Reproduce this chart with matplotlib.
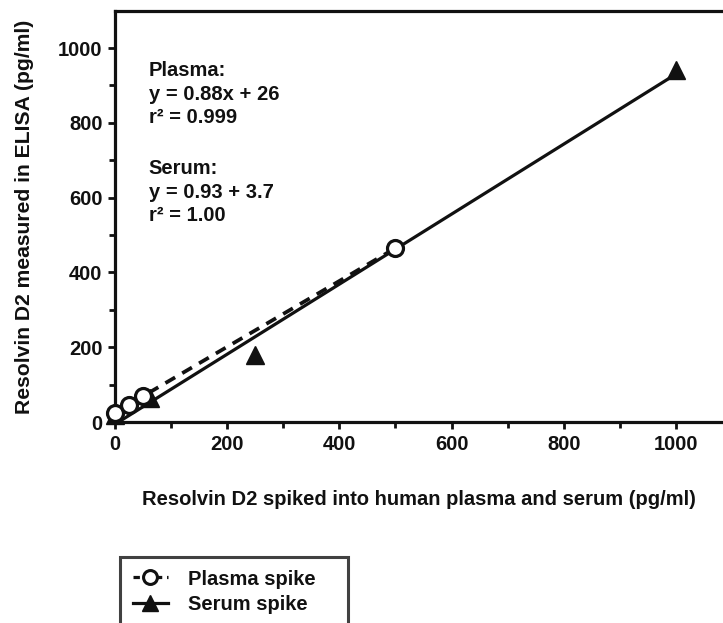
import numpy as np
import matplotlib
matplotlib.use("Agg")
import matplotlib.pyplot as plt
from matplotlib.lines import Line2D

plt.rcParams['font.family'] = ['Liberation Sans', 'DejaVu Sans']
plt.rcParams['font.weight'] = 'bold'

plasma_x = [0, 25, 50, 500]
plasma_y = [25, 46, 70, 465]
serum_x = [0, 62.5, 250, 1000]
serum_y = [20, 65, 178, 942]

xticks = [0, 200, 400, 600, 800, 1000]
yticks = [0, 200, 400, 600, 800, 1000]

annot_lines = ["Plasma:", "y = 0.88x + 26", "r² = 0.999",
               "Serum:", "y = 0.93 + 3.7", "r² = 1.00"]
annot_y = [925, 862, 799, 662, 598, 537]

legend_labels = ['Plasma spike', 'Serum spike']

INK = '#111111'

fig = plt.figure(figsize=(7.23, 6.23), dpi=100)
ax = fig.add_axes([0.159, 0.3226, 0.841, 0.6597])
ax.set_xlim(0, 1084)
ax.set_ylim(0, 1099)

# linear fits
pp = np.polyfit(plasma_x, plasma_y, 1)
sp = np.polyfit(serum_x, serum_y, 1)
px = np.array([plasma_x[0], plasma_x[-1]])
sx = np.array([serum_x[0], serum_x[-1]])
ax.plot(sx, np.polyval(sp, sx), color=INK, lw=2.3, zorder=2)
ax.plot(px, np.polyval(pp, px), color=INK, lw=2.7, ls=(0, (3, 2.2)), zorder=2)

ax.plot(plasma_x, plasma_y, ls='none', marker='o', ms=11.5, mfc='white', mec=INK, mew=2.3, zorder=4, clip_on=False)
ax.plot(serum_x, serum_y, ls='none', marker='^', ms=12.5, mfc=INK, mec=INK, zorder=3, clip_on=False)

ax.spines['right'].set_visible(False)
for s in ['left', 'bottom', 'top']:
    ax.spines[s].set_linewidth(2.3)
    ax.spines[s].set_color(INK)

ax.set_xticks(xticks)
ax.set_yticks(yticks)
ax.set_xticks(np.arange(100, 1084, 200), minor=True)
ax.set_yticks(np.arange(100, 1099, 200), minor=True)
ax.tick_params(which='both', direction='out', width=2, color=INK, labelsize=14.5, labelcolor=INK)
ax.tick_params(which='major', length=5, pad=4)
ax.tick_params(which='minor', length=4)

ax.set_xlabel('Resolvin D2 spiked into human plasma and serum (pg/ml)', fontsize=14.5,
              fontweight='bold', color=INK, labelpad=26)
ax.set_ylabel('Resolvin D2 measured in ELISA (pg/ml)', fontsize=15.2,
              fontweight='bold', color=INK, labelpad=17)

for s, yv in zip(annot_lines, annot_y):
    ax.text(60, yv, s, fontsize=14.5, fontweight='bold', color=INK, va='baseline', ha='left')

handles = [Line2D([], [], color=INK, lw=2.3, ls=(0, (2, 1.5)), marker='o', ms=10, mfc='white', mec=INK, mew=2.2),
           Line2D([], [], color=INK, lw=2.3, marker='^', ms=11, mfc=INK, mec=INK)]
leg = fig.legend(handles, legend_labels, loc='upper left', bbox_to_anchor=(0.166, 0.0, 0.315, 0.1059),
                 mode='expand', frameon=True, fancybox=False, fontsize=14.5, handlelength=1.75,
                 handletextpad=1.0, borderpad=0.62, labelspacing=0.32, borderaxespad=0)
leg.get_frame().set_edgecolor(INK)
leg.get_frame().set_linewidth(2.2)
for t in leg.get_texts():
    t.set_fontweight('bold')
    t.set_color(INK)

fig.savefig('out.png', dpi=100)
